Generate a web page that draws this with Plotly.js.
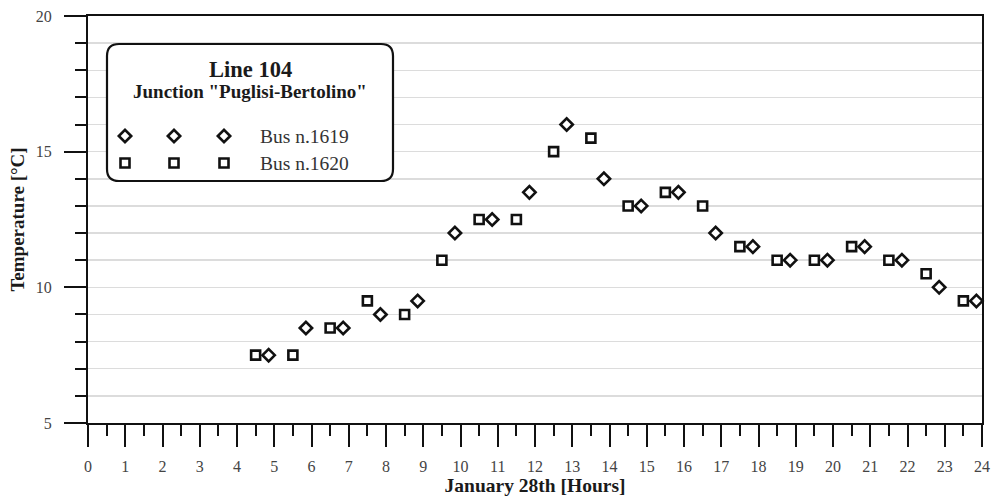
<!DOCTYPE html>
<html>
<head>
<meta charset="utf-8">
<script src="https://cdn.plot.ly/plotly-3.0.1.min.js"></script>
<style>html,body{margin:0;padding:0;background:#fff;}#chart{width:995px;height:499px;}</style>
</head>
<body>
<div id="chart"></div>
<script>
// Bus n.1620 (squares)
const bus1620Hours = [4.5,5.5,6.5,7.5,8.5,9.5,10.5,11.5,12.5,13.5,14.5,15.5,16.5,17.5,18.5,19.5,20.5,21.5,22.5,23.5];
const bus1620Temp  = [7.5,7.5,8.5,9.5,9,11,12.5,12.5,15,15.5,13,13.5,13,11.5,11,11,11.5,11,10.5,9.5];
// Bus n.1619 (diamonds)
const bus1619Hours = [4.85,5.85,6.85,7.85,8.85,9.85,10.85,11.85,12.85,13.85,14.85,15.85,16.85,17.85,18.85,19.85,20.85,21.85,22.85,23.85];
const bus1619Temp  = [7.5,8.5,8.5,9,9.5,12,12.5,13.5,16,14,13,13.5,12,11.5,11,11,11.5,11,10,9.5];

const xTickVals = [0,1,2,3,4,5,6,7,8,9,10,11,12,13,14,15,16,17,18,19,20,21,22,23,24];
const yTickVals = [5,10,15,20];

// legend key sample positions (pixel space of overlay axes)
const legendKeyX = [125,174,224];
const legendRow1Y = [136,136,136];
const legendRow2Y = [163,163,163];

const serif = "Liberation Serif, Times New Roman, serif";
const markerLine = {color:'#111', width:2.6};
const dSize = 9.5, sSize = 9;

const traces = [
  {x:bus1620Hours, y:bus1620Temp, type:'scatter', mode:'markers', name:'Bus n.1620',
   marker:{symbol:'square', size:sSize, color:'#fff', line:markerLine}, cliponaxis:false, showlegend:false},
  {x:bus1619Hours, y:bus1619Temp, type:'scatter', mode:'markers', name:'Bus n.1619',
   marker:{symbol:'diamond', size:dSize, color:'#fff', line:markerLine}, cliponaxis:false, showlegend:false},
  {x:legendKeyX, y:legendRow1Y, xaxis:'x2', yaxis:'y2', type:'scatter', mode:'markers',
   marker:{symbol:'diamond', size:dSize, color:'#fff', line:markerLine}, showlegend:false, hoverinfo:'skip'},
  {x:legendKeyX, y:legendRow2Y, xaxis:'x2', yaxis:'y2', type:'scatter', mode:'markers',
   marker:{symbol:'square', size:sSize, color:'#fff', line:markerLine}, showlegend:false, hoverinfo:'skip'}
];

// rounded box: pixel positions converted to main-axis data space
const px2x = p => (p-88)/894*24;
const px2y = p => 20-(p-16)/407*15;
const bx0=107, bx1=393, by0=44, by1=181, r=12;
const P = (a,b) => `${px2x(a)} ${px2y(b)}`;
const boxPath = `M ${P(bx0+r,by0)} L ${P(bx1-r,by0)} Q ${P(bx1,by0)} ${P(bx1,by0+r)} L ${P(bx1,by1-r)} Q ${P(bx1,by1)} ${P(bx1-r,by1)} L ${P(bx0+r,by1)} Q ${P(bx0,by1)} ${P(bx0,by1-r)} L ${P(bx0,by0+r)} Q ${P(bx0,by0)} ${P(bx0+r,by0)} Z`;

const layout = {
  width:995, height:499,
  margin:{l:88, r:13, t:16, b:76},
  paper_bgcolor:'#fff', plot_bgcolor:'#fff',
  font:{family:serif, color:'#333'},
  xaxis:{
    range:[0,24], tickmode:'array', tickvals:xTickVals, ticks:'outside', ticklen:22, tickwidth:2, tickcolor:'#111',
    minor:{dtick:0.5, tick0:0, ticks:'outside', ticklen:11, tickwidth:2, tickcolor:'#111', showgrid:false},
    showgrid:false, zeroline:false, showline:true, linecolor:'#111', linewidth:2, mirror:true,
    tickfont:{family:serif, size:16, color:'#444'}, ticklabelstandoff:6,
    title:{text:'January 28th [Hours]', font:{family:serif, size:19.5, color:'#1a1a1a', weight:'bold'}, standoff:4},
    automargin:false
  },
  yaxis:{
    range:[5,20], tickmode:'array', tickvals:yTickVals, ticks:'outside', ticklen:22, tickwidth:2, tickcolor:'#111',
    minor:{dtick:1, tick0:5, ticks:'outside', ticklen:11, tickwidth:2, tickcolor:'#111', showgrid:true, gridcolor:'#dcdcdc', gridwidth:1.5},
    showgrid:true, gridcolor:'#dcdcdc', gridwidth:1.5,
    zeroline:false, showline:true, linecolor:'#111', linewidth:2, mirror:true,
    tickfont:{family:serif, size:16, color:'#444'}, ticklabelstandoff:9,
    title:{text:'Temperature [°C]', font:{family:serif, size:19, color:'#1a1a1a', weight:'bold'}, standoff:6},
    automargin:false
  },
  xaxis2:{overlaying:'x', anchor:'y2', range:[88,982], visible:false, fixedrange:true},
  yaxis2:{overlaying:'y', anchor:'x2', range:[423,16], visible:false, fixedrange:true},
  shapes:[
    {type:'path', xref:'x', yref:'y', path:boxPath, line:{color:'#111', width:2.2}, fillcolor:'#fff', layer:'between'}
  ],
  annotations:[
    {xref:'x2', yref:'y2', x:250, y:69, text:'<b>Line 104</b>', showarrow:false, xanchor:'center', yanchor:'middle',
     font:{family:serif, size:22.5, color:'#1a1a1a'}},
    {xref:'x2', yref:'y2', x:250, y:91, text:'<b>Junction "Puglisi-Bertolino"</b>', showarrow:false, xanchor:'center', yanchor:'middle',
     font:{family:serif, size:19, color:'#1a1a1a'}},
    {xref:'x2', yref:'y2', x:258, y:136, text:'Bus n.1619', showarrow:false, xanchor:'left', yanchor:'middle',
     font:{family:serif, size:19.5, color:'#333'}},
    {xref:'x2', yref:'y2', x:258, y:163, text:'Bus n.1620', showarrow:false, xanchor:'left', yanchor:'middle',
     font:{family:serif, size:19.5, color:'#333'}}
  ]
};

Plotly.newPlot('chart', traces, layout, {displayModeBar:false, staticPlot:true});
</script>
</body>
</html>
